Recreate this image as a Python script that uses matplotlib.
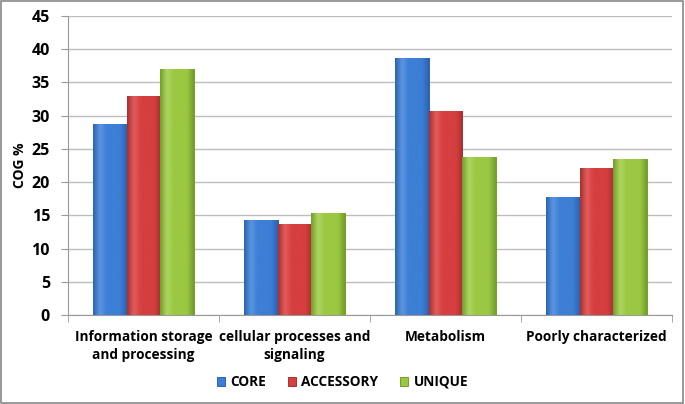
import numpy as np
import matplotlib
matplotlib.use("Agg")
import matplotlib.pyplot as plt
from matplotlib.colors import LinearSegmentedColormap
from matplotlib.patches import Rectangle

categories = ["Information storage\nand processing", "cellular processes and\nsignaling",
              "Metabolism", "Poorly characterized"]
series = ["CORE", "ACCESSORY", "UNIQUE"]
core = [28.7, 14.3, 38.7, 17.8]
accessory = [33.0, 13.7, 30.7, 22.1]
unique = [37.0, 15.3, 23.8, 23.5]
values = [core, accessory, unique]

# (edge, mid, highlight)
colors = [("#2d63b0", "#3d7fd6", "#5b95e0"),
          ("#a83030", "#d63f3f", "#e25d5d"),
          ("#739e2a", "#9bc842", "#afd562")]

plt.rcParams["font.family"] = ["Open Sans", "DejaVu Sans"]
plt.rcParams["font.weight"] = "bold"

fig = plt.figure(figsize=(6.85, 4.04), dpi=100)
ax = fig.add_axes([68 / 685, (404 - 315) / 404, (672 - 68) / 685, (315 - 16) / 404])

x = np.arange(len(categories))
w = 0.221
for i, (name, vals) in enumerate(zip(series, values)):
    edge, mid, light = colors[i]
    pos = x + (i - 1) * w
    bars = ax.bar(pos, vals, w, color=mid, edgecolor=edge, linewidth=0.7, label=name, zorder=3)
    cmap = LinearSegmentedColormap.from_list("g", [edge, light, mid, mid, mid, edge])
    grad = np.linspace(0, 1, 64).reshape(1, -1)
    for b in bars:
        x0, y0 = b.get_x(), b.get_y()
        bw, bh = b.get_width(), b.get_height()
        im = ax.imshow(grad, cmap=cmap, aspect="auto", extent=[x0, x0 + bw, y0, y0 + bh],
                       zorder=3.5, interpolation="bicubic")
        im.set_clip_path(b)

ax.set_xlim(-0.5, len(categories) - 0.5)
ax.set_ylim(0, 45)
ax.set_yticks(np.arange(0, 46, 5))
ax.set_xticks(x)
ax.set_xticks(np.arange(-0.5, len(categories), 1), minor=True)
ax.set_xticklabels(categories, fontsize=9.8, fontweight="bold", linespacing=1.35)
ax.tick_params(axis="y", labelsize=11.5, length=5, color="#999999", pad=8)
ax.tick_params(axis="x", which="major", length=0, pad=11)
ax.tick_params(axis="x", which="minor", length=5, color="#999999")
for lbl in ax.get_yticklabels():
    lbl.set_fontweight("bold")
ax.grid(axis="y", color="#bdbdbd", linewidth=1, zorder=0)
for s in ["top", "right"]:
    ax.spines[s].set_visible(False)
ax.spines["left"].set_color("#999999")
ax.spines["bottom"].set_color("#999999")
ax.set_ylabel("COG %", fontsize=10, fontweight="bold")
ax.yaxis.set_label_coords(-0.068, 0.5)

leg = fig.legend(loc="center", bbox_to_anchor=(0.5, (404 - 382) / 404), ncol=3, frameon=False,
                 prop={"size": 9.8, "weight": "bold"},
                 handlelength=0.6, handleheight=0.6, columnspacing=1.6, handletextpad=0.4)

fig.patches.append(Rectangle((0.002, 0.003), 0.995, 0.994, transform=fig.transFigure,
                             fill=False, edgecolor="#888888", linewidth=1.2))

fig.savefig("out.png", dpi=100)
